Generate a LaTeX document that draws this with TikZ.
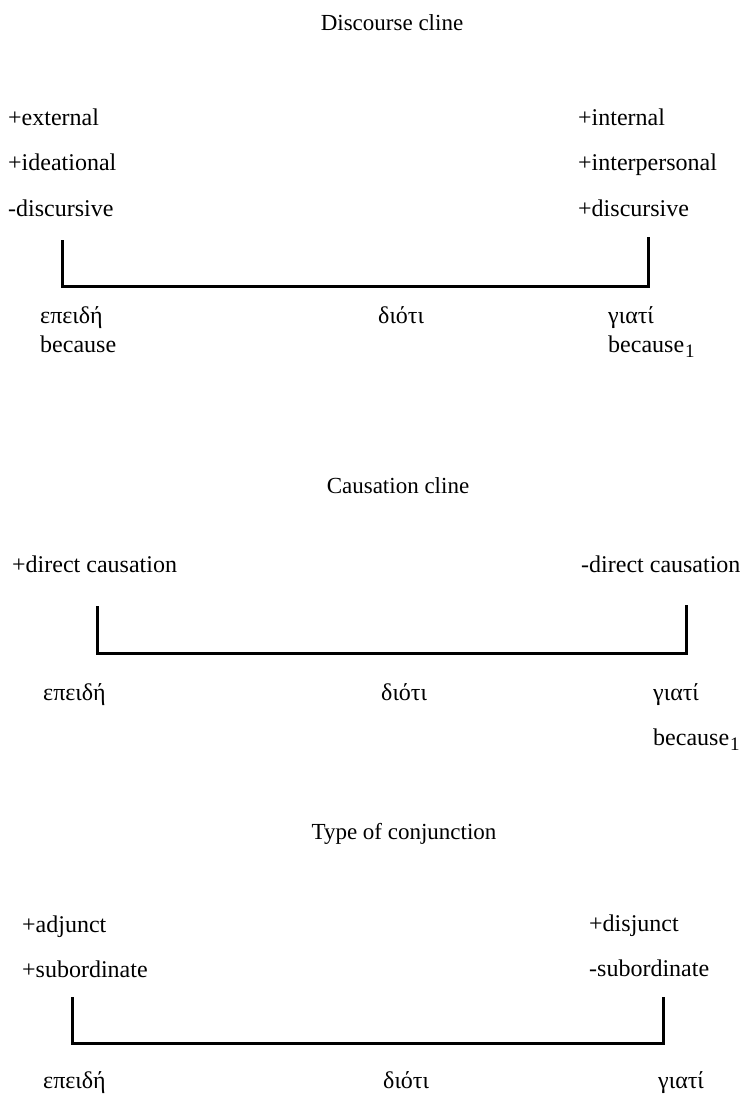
\documentclass[tikz,border=0pt]{standalone}
\usepackage{fontspec}
\setmainfont{Liberation Serif}
\newcommand\lblsize{\fontsize{24}{28}\selectfont}
\newcommand\ttlsize{\fontsize{23}{27}\selectfont}
\newcommand\subone{\kern1pt\raisebox{-5pt}{\fontsize{19}{20}\selectfont 1}}
\begin{document}
\begin{tikzpicture}[x=1pt,y=-1pt,
  lbl/.style={anchor=base west, font=\lblsize, inner sep=0pt},
  ttl/.style={anchor=base, font=\ttlsize, inner sep=0pt},
  bar/.style={line width=3pt, line join=miter, line cap=butt}]
\useasboundingbox[fill=white] (0,0) rectangle (752,1095);

% ---------- Discourse cline ----------
\node[ttl] (t1) at (392,30) {Discourse cline};
\node[lbl] (l1a) at (8,125) {+external};
\node[lbl] (l1b) at (8,170) {+ideational};
\node[lbl] (l1c) at (8,216) {-discursive};
\node[lbl] (r1a) at (578,125) {+internal};
\node[lbl] (r1b) at (578,170) {+interpersonal};
\node[lbl] (r1c) at (578,216) {+discursive};
\coordinate (a1) at (62,240);
\coordinate (b1) at (62,286);
\coordinate (c1) at (648,286);
\coordinate (d1) at (648,237);
\draw[bar] (a1) -- (b1) -- (c1) -- (d1);
\node[lbl] (g1a) at (40,323) {επειδή};
\node[lbl] (e1a) at (40,352) {because};
\node[lbl] (g1b) at (378,323) {διότι};
\node[lbl] (g1c) at (608,323) {γιατί};
\node[lbl] (e1c) at (608,352) {because\subone};

% ---------- Causation cline ----------
\node[ttl] (t2) at (398,493) {Causation cline};
\node[lbl] (l2a) at (12,572) {+direct causation};
\node[lbl] (r2a) at (581,572) {-direct causation};
\coordinate (a2) at (97,606);
\coordinate (b2) at (97,653);
\coordinate (c2) at (686,653);
\coordinate (d2) at (686,605);
\draw[bar] (a2) -- (b2) -- (c2) -- (d2);
\node[lbl] (g2a) at (43,700) {επειδή};
\node[lbl] (g2b) at (381,700) {διότι};
\node[lbl] (g2c) at (653,700) {γιατί};
\node[lbl] (e2c) at (653,745) {because\subone};

% ---------- Type of conjunction ----------
\node[ttl] (t3) at (404,839) {Type of conjunction};
\node[lbl] (l3a) at (22,932) {+adjunct};
\node[lbl] (l3b) at (22,977) {+subordinate};
\node[lbl] (r3a) at (589,931) {+disjunct};
\node[lbl] (r3b) at (589,976) {-subordinate};
\coordinate (a3) at (72,997);
\coordinate (b3) at (72,1043);
\coordinate (c3) at (663,1043);
\coordinate (d3) at (663,997);
\draw[bar] (a3) -- (b3) -- (c3) -- (d3);
\node[lbl] (g3a) at (43,1088) {επειδή};
\node[lbl] (g3b) at (383,1088) {διότι};
\node[lbl] (g3c) at (658,1088) {γιατί};
\end{tikzpicture}
\end{document}
